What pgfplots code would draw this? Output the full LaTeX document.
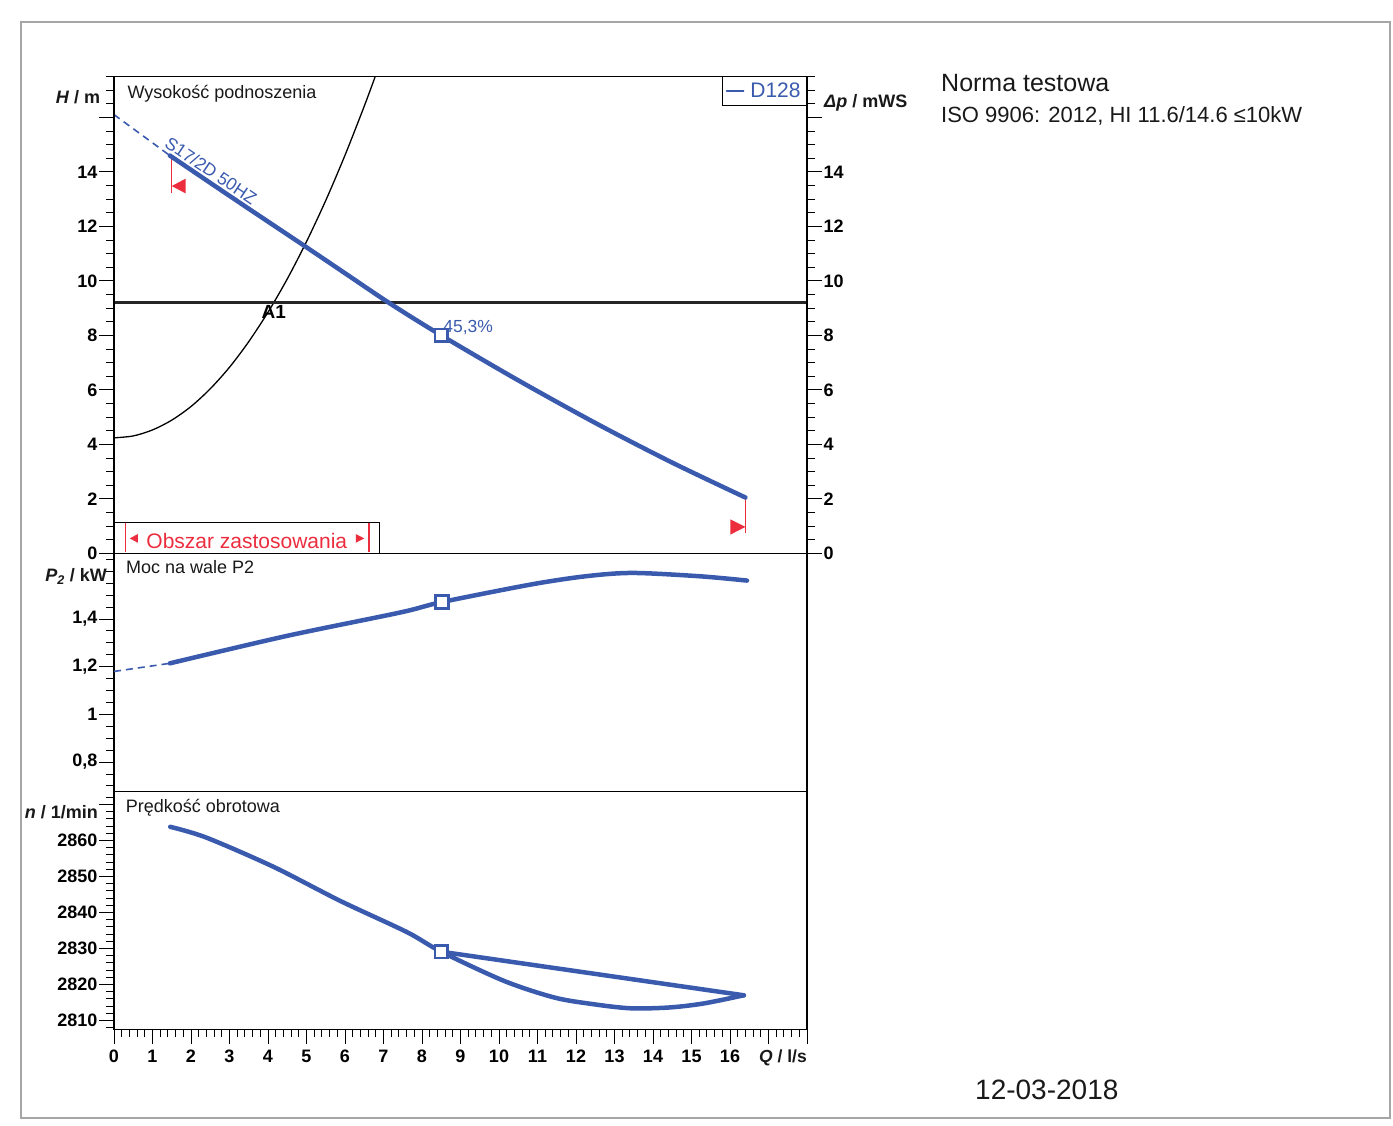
\documentclass[border=0pt]{standalone}
\usepackage{fontspec}
\setmainfont{Liberation Sans}
\usepackage{pgfplots}
\pgfplotsset{compat=1.18}
\definecolor{cblue}{RGB}{58,90,174}
\definecolor{cred}{RGB}{236,45,62}
\newcommand{\fsz}[1]{\fontsize{#1}{#1}\selectfont}
\pgfplotsset{panel/.style={
  anchor=south west, width=693pt, scale only axis,
  xmin=0, xmax=18,
  tick align=outside,
  major tick length=15pt, minor tick length=8pt,
  tick style={black, line width=0.9pt},
  axis line style={black, line width=1.1pt},
  tick label style={font=\bfseries\fsz{18}, text=black},
  yticklabel style={inner sep=1.5pt},
  ytick pos=left, xtick=\empty,
}}
\begin{document}
\begin{tikzpicture}[txt/.style={inner sep=0pt, text=black!90}]
\useasboundingbox (0pt,0pt) rectangle (1393pt,1126pt);
\draw[gray!70, line width=1.3pt] (21pt,8pt) rectangle (1390pt,1104pt);

% ---------------- H panel ----------------
\begin{axis}[panel, at={(114pt,572.6pt)}, height=476.9pt,
  ymin=0, ymax=17.5,
  ytick={0,2,...,16}, yticklabels={0,2,4,6,8,10,12,14,{}},
  minor ytick={0.5,1,...,17.5},
  legend style={at={(1,1)}, anchor=north east, draw=black, line width=0.9pt,
    font=\fsz{21}, inner xsep=4pt, inner ysep=4pt},
  legend image code/.code={\draw[cblue, line width=1.4pt] (0pt,0pt) -- (17pt,0pt);},
]
% application range box
\draw[black, line width=1pt] (axis cs:0,0) rectangle (axis cs:6.9,1.15);
\draw[cred, line width=1.6pt] (axis cs:0.3,0.05) -- (axis cs:0.3,1.1);
\draw[cred, line width=1.6pt] (axis cs:6.62,0.05) -- (axis cs:6.62,1.1);
\fill[cred] (axis cs:0.41,0.55) -- (axis cs:0.62,0.71) -- (axis cs:0.62,0.39) -- cycle;
\fill[cred] (axis cs:6.5,0.55) -- (axis cs:6.28,0.71) -- (axis cs:6.28,0.39) -- cycle;
\node[anchor=base, inner sep=0pt, text=cred, font=\fsz{21}] at (axis cs:3.45,0.165) {Obszar zastosowania};

% system curve
\addplot[black, line width=1.3pt, smooth, forget plot] coordinates {
 (0,4.24) (0.5,4.31) (1,4.53) (1.5,4.89) (2,5.39) (2.5,6.04) (3,6.83)
 (3.5,7.77) (4,8.85) (4.5,10.07) (5,11.44) (5.5,12.95) (6,14.61)
 (6.5,16.41) (6.79,17.52)};
% horizontal line
\addplot[black!85, line width=3.5pt, forget plot] coordinates {(0,9.2) (18,9.2)};
% pump curve dashed part
\addplot[cblue, line width=1.6pt, dash pattern=on 7pt off 5pt, forget plot] coordinates {(0,16.1) (1.45,14.6)};
% application limits
\addplot[cred, line width=1.3pt, forget plot] coordinates {(1.5,14.55) (1.5,13.23)};
\addplot[cred, fill=cred, draw=none, forget plot] coordinates {(1.5,13.48) (1.86,13.75) (1.86,13.21)} -- cycle;
\addplot[cred, line width=1.3pt, forget plot] coordinates {(16.4,2.05) (16.4,0.73)};
\addplot[cred, fill=cred, draw=none, forget plot] coordinates {(16.4,0.97) (16.01,1.25) (16.01,0.69)} -- cycle;
% pump curve
\addplot[cblue, line width=4.5pt, smooth, line cap=round] coordinates {
 (1.45,14.6) (3,13.12) (4.95,11.28) (6,10.28) (7.18,9.16) (8.5,8.0)
 (10.5,6.35) (12.55,4.75) (14.5,3.33) (16.4,2.05)};
\addlegendentry{\hspace{4pt}\textcolor{cblue}{D128}}
\addplot[cblue, line width=2.5pt, only marks, mark=square*, mark size=6.3pt,
  mark options={fill=white, solid}, forget plot] coordinates {(8.5,8.0)};
\node[inner sep=0pt, text=cblue, font=\fsz{17.5}, rotate=-34] at (axis cs:2.52,14.05) {S17/2D 50HZ};
\node[inner sep=0pt, text=cblue, font=\fsz{17.5}] at (axis cs:9.2,8.3) {45,3\%};
\node[anchor=north, inner sep=0pt, text=black, font=\bfseries\fsz{19}] at (axis cs:4.15,9.1) {A1};
\end{axis}

% right axis of H panel
\begin{axis}[panel, at={(114pt,572.6pt)}, height=476.9pt,
  ymin=0, ymax=17.5, hide x axis,
  ytick pos=right, yticklabel pos=right,
  ytick={0,2,...,16}, yticklabels={0,2,4,6,8,10,12,14,{}},
  minor ytick={0.5,1,...,17.5},
]
\addplot[draw=none] coordinates {(0,0)};
\end{axis}

% ---------------- P2 panel ----------------
\begin{axis}[panel, at={(114pt,334.1pt)}, height=238.5pt,
  ymin=0.675, ymax=1.675,
  ytick={0.8,1,1.2,1.4}, yticklabels={{0,8},1,{1,2},{1,4}},
  minor ytick={0.7,0.75,0.8,0.85,0.9,0.95,1,1.05,1.1,1.15,1.2,1.25,1.3,1.35,1.4,1.45,1.5,1.55,1.6,1.65},
]
\addplot[cblue, line width=1.6pt, dash pattern=on 7pt off 5pt] coordinates {(0,1.18) (1.45,1.214)};
\addplot[cblue, line width=4.5pt, smooth, line cap=round] coordinates {
 (1.45,1.214) (4.49,1.329) (7.43,1.427) (8.52,1.471) (10.88,1.546)
 (12.3,1.580) (13.48,1.593) (15.22,1.579) (16.44,1.561)};
\addplot[cblue, line width=2.5pt, only marks, mark=square*, mark size=6.3pt,
  mark options={fill=white, solid}] coordinates {(8.52,1.471)};
\end{axis}

% ---------------- n panel ----------------
\begin{axis}[panel, at={(114pt,96.5pt)}, height=237.6pt,
  ymin=2807.5, ymax=2873.5,
  ytick={2810,2820,...,2870}, yticklabels={2810,2820,2830,2840,2850,2860,{}},
  minor ytick={2808,2810,...,2872},
  xtick={0,1,...,18}, xticklabels={0,1,2,3,4,5,6,7,8,9,10,11,12,13,14,15,16,{},{}},
  minor x tick num=4, xtick pos=lower,
  xticklabel style={inner sep=0pt, yshift=-5pt},
]
\addplot[cblue, line width=4.5pt, smooth, line cap=round] coordinates {
 (1.46,2863.8) (2.4,2860.8) (4.14,2852.7) (5.88,2843.2) (7.6,2834.6) (8.5,2829.1)
 (10.13,2821.0) (11.43,2816.4) (12.4,2814.6) (13.4,2813.4) (14.4,2813.6)
 (15.3,2814.7) (16.36,2817.0)};
\addplot[cblue, line width=4.5pt, line cap=round] coordinates {(8.5,2829.1) (16.36,2817.0)};
\addplot[cblue, line width=2.5pt, only marks, mark=square*, mark size=6.3pt,
  mark options={fill=white, solid}] coordinates {(8.5,2829.1)};
\end{axis}

% ---------------- labels ----------------
\node[txt, anchor=base east, font=\bfseries\fsz{18}] at (100.4pt,1022pt) {\textit{H} / m};
\node[txt, anchor=base west, font=\bfseries\fsz{18}] at (824pt,1018.6pt) {\textit{Δp} / mWS};
\node[txt, anchor=base west, font=\fsz{18}] at (127.3pt,1027pt) {Wysokość podnoszenia};
\node[txt, anchor=base west, font=\fsz{18}] at (126pt,552.6pt) {Moc na wale P2};
\node[txt, anchor=base east, font=\bfseries\fsz{18}] at (107pt,544.6pt) {\textit{P}\textsubscript{\textit{2}} / kW};
\node[txt, anchor=base west, font=\fsz{18}] at (125.7pt,313.1pt) {Prędkość obrotowa};
\node[txt, anchor=base east, font=\bfseries\fsz{18}] at (98pt,307pt) {\textit{n} / 1/min};
\node[txt, anchor=base east, font=\bfseries\fsz{17.5}] at (807pt,63.5pt) {\textit{Q} / l/s};

\node[txt, anchor=base west, font=\fsz{25}] at (941pt,1034pt) {Norma testowa};
\node[txt, anchor=base west, font=\fsz{22}] at (941pt,1003pt) {ISO 9906: 2012, HI 11.6/14.6 ≤10kW};
\node[txt, anchor=base west, font=\fsz{28}] at (975pt,26pt) {12-03-2018};
\end{tikzpicture}
\end{document}
